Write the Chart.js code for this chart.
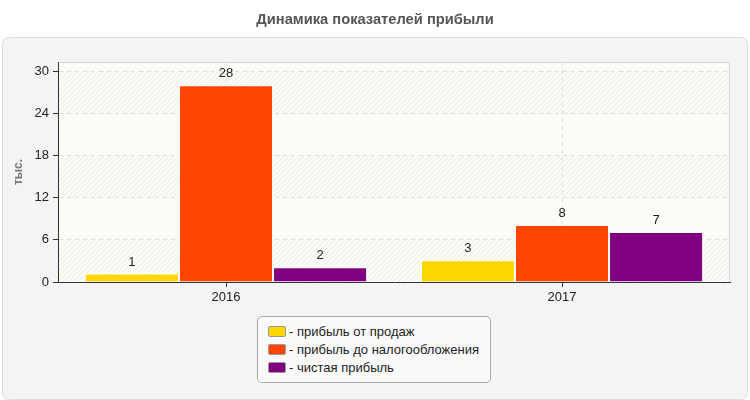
<!DOCTYPE html>
<html><head><meta charset="utf-8">
<script src="https://cdn.jsdelivr.net/npm/chart.js@4/dist/chart.umd.min.js"></script>
<style>
html,body{margin:0;padding:0;background:#fff;}
#wrap{position:relative;width:750px;height:400px;}
#legend{position:absolute;left:257px;top:316px;width:232px;height:65px;background:#fafafa;border:1px solid #aaa;border-radius:5px;font:13px "Liberation Sans",Arial,sans-serif;color:#222;}
.item{position:absolute;left:10px;height:18px;line-height:18px;white-space:nowrap}
.sw{display:inline-block;width:16px;height:9px;border:1px solid #999;border-radius:2px;vertical-align:middle;margin-right:3px;position:relative;top:-1px}
</style></head><body>
<div id="wrap"><canvas id="c" width="750" height="400"></canvas><div id="legend"></div></div>
<script>
const chartTitle = 'Динамика показателей прибыли';
const yAxisTitle = 'тыс.';
const categories = ['2016', '2017'];
const seriesNames = ['прибыль от продаж', 'прибыль до налогообложения', 'чистая прибыль'];
const salesProfit = [1.2, 3.1];
const pretaxProfit = [28, 8.1];
const netProfit = [2.1, 7.1];
const seriesColors = ['#ffd700', '#ff4500', '#800080'];
const yTicks = [0, 6, 12, 18, 24, 30];
const yMax = 31.3;

const FONT = '"Liberation Sans", Arial, sans-serif';

function makePattern(ctx) {
  const p = document.createElement('canvas');
  p.width = 5; p.height = 5;
  const c = p.getContext('2d');
  c.strokeStyle = '#ebebe6';
  c.lineWidth = 1;
  c.beginPath();
  c.moveTo(-1, 6); c.lineTo(6, -1);
  c.moveTo(-1, 1); c.lineTo(1, -1);
  c.moveTo(4, 6); c.lineTo(6, 4);
  c.stroke();
  return ctx.createPattern(p, 'repeat');
}

const bgPlugin = {
  id: 'bgPlugin',
  beforeDraw(chart) {
    const { ctx, chartArea: a, scales: { y } } = chart;
    ctx.save();
    ctx.beginPath();
    ctx.roundRect(2.5, 37.5, 745, 362, 6);
    ctx.fillStyle = '#f4f4f4';
    ctx.fill();
    ctx.strokeStyle = '#dcdcdc';
    ctx.lineWidth = 1;
    ctx.stroke();
    ctx.fillStyle = '#fcfcf6';
    ctx.fillRect(a.left, a.top, a.width, a.height);
    const pat = makePattern(ctx);
    ctx.fillStyle = pat;
    for (let i = 0; i < yTicks.length - 1; i += 2) {
      const y0 = y.getPixelForValue(yTicks[i]);
      const y1 = y.getPixelForValue(yTicks[i + 1]);
      ctx.fillRect(a.left, y1, a.width, y0 - y1);
    }
    ctx.strokeStyle = '#d8d8d8';
    ctx.beginPath();
    ctx.moveTo(a.left, a.top + 0.5);
    ctx.lineTo(a.right - 0.5, a.top + 0.5);
    ctx.lineTo(a.right - 0.5, a.bottom);
    ctx.stroke();
    ctx.restore();
  },
  afterDatasetsDraw(chart) {
    const ctx = chart.ctx;
    ctx.save();
    ctx.font = '13px ' + FONT;
    ctx.fillStyle = '#222';
    ctx.textAlign = 'center';
    ctx.textBaseline = 'bottom';
    chart.data.datasets.forEach((ds, di) => {
      chart.getDatasetMeta(di).data.forEach((bar, i) => {
        ctx.fillText(String(Math.round(ds.data[i])), bar.x, bar.y - 5);
      });
    });
    ctx.restore();
  }
};

const seriesData = [salesProfit, pretaxProfit, netProfit];
const datasets = seriesNames.map((name, i) => ({
  label: name,
  data: seriesData[i],
  backgroundColor: seriesColors[i],
  borderColor: '#ffffff',
  borderWidth: 1,
  borderSkipped: 'bottom',
  categoryPercentage: 0.84,
  barPercentage: 1
}));

const chart = new Chart(document.getElementById('c'), {
  type: 'bar',
  data: { labels: categories, datasets },
  options: {
    responsive: false,
    animation: false,
    devicePixelRatio: 1,
    layout: { padding: { top: 0, right: 0, bottom: 88, left: 0 } },
    plugins: {
      legend: { display: false },
      tooltip: { enabled: false },
      title: {
        display: true,
        text: chartTitle,
        color: '#555',
        font: { family: FONT, size: 14.7, weight: 'bold' },
        padding: { top: 11, bottom: 33.4 }
      }
    },
    scales: {
      x: {
        offset: true,
        grid: { offset: false, color: '#dedede', tickColor: '#333', tickLength: 5, tickBorderDash: [] },
        border: { color: '#333', dash: [4, 4] },
        ticks: { color: '#222', font: { family: FONT, size: 13 }, padding: 3 },
        afterFit(s) { s.height = 30; }
      },
      y: {
        min: 0,
        max: yMax,
        grid: { color: '#dedede', tickColor: '#333', tickLength: 5, tickBorderDash: [] },
        border: { color: '#333', dash: [4, 4] },
        ticks: { stepSize: 6, color: '#222', font: { family: FONT, size: 13 }, padding: 4 },
        afterBuildTicks(s) { s.ticks = yTicks.map(v => ({ value: v })); },
        title: {
          display: true,
          text: yAxisTitle,
          color: '#777',
          font: { family: FONT, size: 12, weight: 'bold' },
          padding: { top: 11, bottom: 0 }
        },
        afterFit(s) { s.width = 58; }
      },
      ySpace: {
        position: 'right',
        min: 0,
        max: yMax,
        grid: { display: false },
        border: { display: false },
        ticks: { display: false },
        afterFit(s) { s.width = 20; }
      }
    }
  },
  plugins: [bgPlugin]
});

const legend = document.getElementById('legend');
datasets.forEach((ds, i) => {
  const item = document.createElement('div');
  item.className = 'item';
  item.style.top = (6 + i * 18) + 'px';
  const sw = document.createElement('span');
  sw.className = 'sw';
  sw.style.background = ds.backgroundColor;
  item.appendChild(sw);
  item.appendChild(document.createTextNode('- ' + ds.label));
  legend.appendChild(item);
});
</script>
</body></html>
